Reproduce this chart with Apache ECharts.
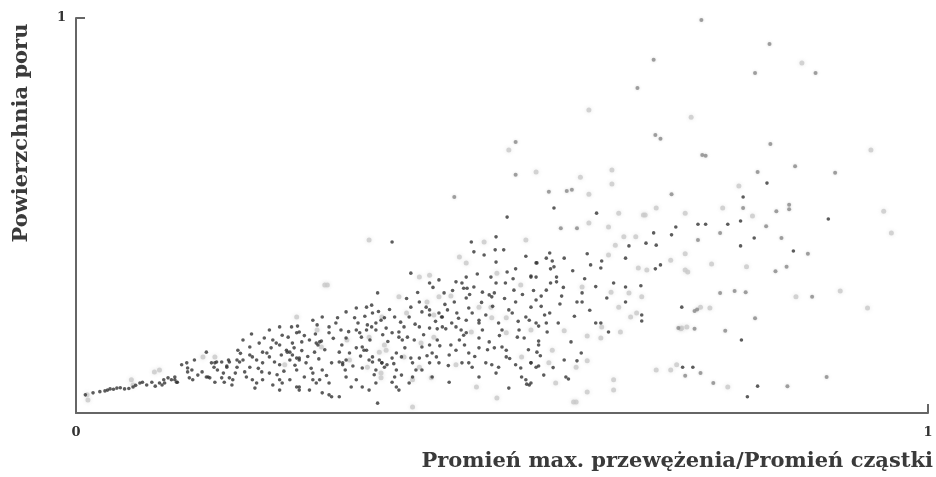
<!DOCTYPE html>
<html>
<head>
<meta charset="utf-8">
<script src="https://cdn.jsdelivr.net/npm/echarts@6/dist/echarts.min.js"></script>
<style>
  html, body { margin: 0; padding: 0; background: #fff; }
  #chart { width: 936px; height: 477px; }
</style>
</head>
<body>
<div id="chart"></div>
<script>
// Axis tick labels and titles
const xTickLabels = ['0', '1'];
const yTickLabels = ['1'];
const xTitle = 'Promień max. przewężenia/Promień cząstki';
const yTitle = 'Powierzchnia poru';

// Measurements, dark (sharp) points: [radius ratio, pore area]
const darkPoints = [
  [0.011,0.046],[0.020,0.051],[0.028,0.054],[0.034,0.056],[0.037,0.058],[0.040,0.061],[0.044,0.060],[0.048,0.063],
  [0.052,0.064],[0.057,0.061],[0.062,0.062],[0.067,0.066],[0.070,0.070],[0.075,0.076],[0.078,0.078],[0.083,0.071],
  [0.089,0.078],[0.093,0.068],[0.098,0.076],[0.103,0.084],[0.108,0.089],[0.112,0.084],[0.116,0.091],[0.119,0.078],
  [0.124,0.122],[0.130,0.127],[0.131,0.114],[0.133,0.089],[0.137,0.084],[0.139,0.134],[0.143,0.096],[0.148,0.104],
  [0.153,0.154],[0.155,0.091],[0.159,0.127],[0.162,0.116],[0.163,0.078],[0.166,0.109],[0.171,0.129],[0.173,0.101],
  [0.177,0.119],[0.179,0.134],[0.180,0.089],[0.183,0.071],
  [0.153,0.091],[0.157,0.089],[0.131,0.104],[0.136,0.109],[0.116,0.084],[0.118,0.078],[0.171,0.089],[0.174,0.078],
  [0.177,0.116],[0.180,0.129],[0.163,0.127],[0.165,0.129],[0.101,0.071],[0.104,0.076],
  [0.206,0.200],[0.196,0.185],[0.190,0.159],[0.204,0.167],[0.215,0.177],[0.227,0.210],[0.231,0.185],[0.239,0.218],
  [0.242,0.197],[0.253,0.218],[0.260,0.220],[0.254,0.177],[0.265,0.180],[0.274,0.185],[0.278,0.235],[0.283,0.223],
  [0.286,0.180],[0.280,0.154],[0.297,0.203],[0.307,0.241],[0.311,0.210],[0.317,0.256],[0.327,0.241],[0.329,0.266],
  [0.341,0.268],[0.347,0.273],[0.348,0.253],[0.354,0.304],[0.352,0.228],[0.358,0.235],[0.341,0.210],[0.335,0.192],
  [0.317,0.190],[0.309,0.154],[0.321,0.152],[0.329,0.165],[0.341,0.159],[0.348,0.142],[0.356,0.134],[0.362,0.116],
  [0.352,0.109],[0.336,0.114],[0.329,0.084],[0.317,0.091],[0.313,0.122],[0.300,0.127],[0.289,0.109],[0.278,0.101],
  [0.270,0.127],[0.262,0.139],[0.251,0.134],[0.241,0.147],[0.239,0.122],[0.227,0.142],[0.219,0.127],[0.212,0.134],
  [0.204,0.116],[0.196,0.134],[0.189,0.116],[0.184,0.084],[0.200,0.091],[0.210,0.063],[0.219,0.084],[0.231,0.071],
  [0.239,0.058],[0.251,0.084],[0.262,0.066],[0.274,0.058],[0.286,0.084],[0.297,0.076],[0.300,0.041],[0.309,0.041],
  [0.289,0.051],[0.323,0.066],[0.352,0.076],[0.354,0.025],[0.259,0.109],[0.268,0.091],[0.248,0.154],[0.256,0.165],
  [0.227,0.101],[0.218,0.104],
  [0.247,0.159],[0.251,0.154],[0.254,0.147],[0.259,0.139],[0.262,0.134],[0.282,0.177],[0.284,0.172],[0.288,0.182],
  [0.309,0.129],[0.313,0.127],[0.317,0.134],[0.344,0.134],[0.348,0.129],[0.359,0.127],[0.342,0.223],[0.347,0.218],
  [0.352,0.210],[0.219,0.154],[0.224,0.152],[0.204,0.147],[0.207,0.142],[0.189,0.134],[0.192,0.129],[0.235,0.177],
  [0.239,0.172],[0.259,0.203],[0.262,0.205],[0.289,0.243],[0.297,0.218],[0.329,0.210],[0.333,0.203],[0.336,0.167],
  [0.338,0.159],[0.278,0.084],[0.282,0.076],[0.239,0.084],[0.242,0.076],[0.207,0.084],[0.212,0.076],[0.259,0.066],
  [0.262,0.058],[0.297,0.046],[0.336,0.066],[0.344,0.058],
  [0.187,0.101],[0.193,0.151],[0.198,0.104],[0.214,0.113],[0.221,0.190],[0.229,0.165],[0.233,0.129],[0.236,0.097],
  [0.244,0.106],[0.249,0.192],[0.257,0.121],[0.265,0.158],[0.268,0.196],[0.272,0.143],[0.276,0.113],[0.281,0.200],
  [0.285,0.137],[0.292,0.160],[0.294,0.095],[0.302,0.189],[0.305,0.228],[0.312,0.172],[0.316,0.109],[0.320,0.206],
  [0.325,0.119],[0.331,0.228],[0.334,0.144],[0.339,0.245],[0.345,0.185],[0.350,0.097],[0.355,0.257],[0.360,0.198],
  [0.366,0.181],[0.368,0.262],[0.373,0.125],[0.381,0.230],[0.386,0.165],[0.388,0.290],[0.398,0.225],[0.401,0.305],
  [0.408,0.198],[0.412,0.145],[0.419,0.318],[0.422,0.232],[0.427,0.170],[0.433,0.275],[0.437,0.120],[0.442,0.310],
  [0.449,0.240],[0.456,0.172],[0.462,0.300],[0.468,0.143],[0.471,0.352],[0.476,0.280],[0.483,0.160],[0.489,0.270],
  [0.497,0.196],[0.503,0.290],[0.509,0.138],[0.513,0.340],[0.519,0.232],[0.524,0.300],[0.531,0.160],[0.537,0.310],
  [0.546,0.270],
  [0.371,0.433],[0.464,0.433],[0.493,0.446],[0.467,0.408],[0.479,0.400],[0.492,0.413],[0.502,0.413],[0.493,0.382],
  [0.528,0.397],[0.540,0.380],[0.393,0.354],[0.426,0.337],[0.415,0.329],[0.446,0.332],[0.458,0.344],[0.487,0.344],
  [0.506,0.357],[0.516,0.365],[0.534,0.347],[0.493,0.329],[0.504,0.329],[0.514,0.311],[0.467,0.319],[0.432,0.304],
  [0.455,0.316],[0.477,0.306],[0.491,0.304],[0.458,0.291],[0.444,0.281],[0.516,0.281],[0.403,0.281],[0.393,0.268],
  [0.406,0.256],[0.391,0.243],[0.415,0.248],[0.436,0.261],[0.447,0.253],[0.461,0.266],[0.465,0.253],[0.473,0.235],
  [0.481,0.248],[0.458,0.235],[0.430,0.243],[0.430,0.218],[0.434,0.213],[0.424,0.213],[0.415,0.215],[0.403,0.218],
  [0.362,0.241],[0.374,0.243],[0.385,0.218],[0.364,0.215],[0.371,0.203],[0.379,0.205],[0.389,0.192],[0.397,0.185],
  [0.415,0.172],[0.406,0.167],[0.424,0.185],[0.440,0.172],[0.450,0.185],[0.446,0.159],[0.458,0.203],[0.473,0.190],
  [0.485,0.180],[0.491,0.165],[0.473,0.165],[0.461,0.152],[0.453,0.127],[0.438,0.147],[0.426,0.127],[0.415,0.127],
  [0.403,0.139],[0.393,0.139],[0.382,0.142],[0.376,0.152],[0.371,0.139],[0.359,0.127],[0.365,0.122],[0.376,0.109],
  [0.382,0.096],[0.374,0.091],[0.371,0.078],[0.376,0.066],[0.481,0.127],[0.488,0.122],[0.496,0.116],[0.516,0.122],
  [0.505,0.142],[0.518,0.192],[0.526,0.190],[0.520,0.210],[0.534,0.127],[0.540,0.116],[0.522,0.114],[0.438,0.078],
  [0.508,0.063],[0.529,0.073],[0.395,0.091],[0.406,0.109],
  [0.453,0.329],[0.459,0.316],[0.485,0.299],[0.488,0.294],[0.411,0.268],[0.415,0.261],[0.426,0.253],[0.429,0.243],
  [0.441,0.228],[0.446,0.218],[0.473,0.228],[0.477,0.210],[0.496,0.228],[0.500,0.210],[0.508,0.261],[0.512,0.253],
  [0.528,0.243],[0.532,0.235],[0.461,0.127],[0.465,0.116],[0.418,0.152],[0.423,0.142],[0.395,0.127],[0.399,0.109],
  [0.379,0.192],[0.383,0.185],[0.452,0.210],[0.455,0.197],[0.500,0.167],[0.505,0.159],[0.523,0.091],[0.528,0.084],
  [0.473,0.091],[0.493,0.101],[0.418,0.091],[0.391,0.076],[0.379,0.058],
  [0.561,0.519],[0.611,0.506],[0.678,0.456],[0.704,0.471],[0.699,0.451],[0.669,0.430],[0.649,0.423],[0.681,0.425],
  [0.600,0.403],[0.645,0.392],[0.617,0.385],[0.604,0.375],[0.616,0.367],[0.686,0.375],[0.680,0.365],[0.552,0.392],
  [0.541,0.380],[0.559,0.385],[0.561,0.370],[0.557,0.365],[0.534,0.344],[0.540,0.344],[0.564,0.344],[0.564,0.332],
  [0.557,0.329],[0.631,0.329],[0.645,0.319],[0.663,0.322],[0.645,0.281],[0.623,0.291],[0.594,0.304],[0.588,0.281],
  [0.594,0.281],[0.570,0.296],[0.546,0.296],[0.540,0.286],[0.552,0.311],[0.534,0.268],[0.568,0.276],[0.556,0.253],
  [0.550,0.248],[0.540,0.228],[0.543,0.220],[0.552,0.228],[0.610,0.228],[0.616,0.228],[0.625,0.205],[0.664,0.248],
  [0.664,0.233],[0.711,0.268],[0.581,0.180],[0.543,0.182],[0.543,0.172],[0.541,0.154],[0.593,0.152],[0.573,0.134],
  [0.588,0.132],[0.534,0.127],[0.543,0.119],[0.549,0.096],[0.575,0.091],[0.578,0.086],[0.712,0.116],[0.534,0.076],
  [0.556,0.405],[0.573,0.392],[0.583,0.360],[0.572,0.318],[0.597,0.340],[0.610,0.320],[0.553,0.205],[0.566,0.228],
  [0.585,0.245],[0.603,0.260],[0.560,0.115],[0.545,0.145],
  [0.811,0.582],[0.783,0.547],[0.730,0.478],[0.739,0.478],[0.765,0.478],[0.780,0.486],[0.796,0.443],[0.780,0.423],
  [0.842,0.410],[0.883,0.491],[0.781,0.185],[0.724,0.116],[0.800,0.068],[0.788,0.041],[0.506,0.496],[0.532,0.071]
];

// Measurements, medium grey points
const midPoints = [
  [0.734,0.995],[0.814,0.934],[0.797,0.861],[0.868,0.861],[0.678,0.894],[0.659,0.823],[0.680,0.704],[0.686,0.694],
  [0.516,0.686],[0.516,0.603],[0.815,0.681],[0.735,0.653],[0.739,0.651],[0.844,0.625],[0.800,0.610],[0.891,0.608],
  [0.555,0.560],[0.582,0.565],[0.576,0.562],[0.699,0.554],[0.444,0.547],[0.569,0.468],[0.588,0.468],[0.783,0.519],
  [0.828,0.443],[0.821,0.359],[0.797,0.240],[0.837,0.527],[0.837,0.516],[0.822,0.511],[0.810,0.473],[0.859,0.403],
  [0.834,0.370],[0.864,0.294],[0.773,0.309],[0.786,0.306],[0.756,0.304],[0.756,0.456],[0.730,0.438],[0.726,0.258],
  [0.726,0.213],[0.762,0.208],[0.733,0.101],[0.715,0.094],[0.748,0.076],[0.835,0.068],[0.881,0.091],[0.729,0.262],
  [0.707,0.215]
];

// Measurements, faint grey points
const lightPoints = [
  [0.852,0.886],[0.602,0.767],[0.722,0.749],[0.508,0.666],[0.540,0.610],[0.933,0.666],[0.592,0.597],[0.629,0.615],
  [0.629,0.580],[0.778,0.575],[0.948,0.511],[0.957,0.456],[0.715,0.506],[0.715,0.403],[0.718,0.357],[0.746,0.377],
  [0.787,0.370],[0.845,0.294],[0.897,0.309],[0.929,0.266],[0.744,0.266],[0.733,0.268],[0.717,0.218],[0.710,0.213],
  [0.759,0.519],[0.794,0.499],[0.765,0.066],[0.602,0.554],[0.602,0.481],[0.625,0.471],[0.637,0.506],[0.666,0.501],
  [0.657,0.446],[0.625,0.400],[0.633,0.425],[0.660,0.367],[0.670,0.362],[0.698,0.387],[0.715,0.362],[0.594,0.319],
  [0.628,0.306],[0.649,0.304],[0.664,0.294],[0.651,0.243],[0.658,0.253],[0.637,0.268],[0.617,0.218],[0.639,0.205],
  [0.600,0.195],[0.616,0.190],[0.573,0.208],[0.559,0.159],[0.555,0.127],[0.600,0.132],[0.587,0.116],[0.631,0.084],
  [0.631,0.058],[0.600,0.053],[0.584,0.028],[0.563,0.076],[0.681,0.109],[0.698,0.109],[0.705,0.122],[0.711,0.215],
  [0.403,0.344],[0.415,0.349],[0.450,0.395],[0.458,0.380],[0.479,0.433],[0.528,0.438],[0.494,0.354],[0.522,0.324],
  [0.426,0.294],[0.440,0.296],[0.412,0.281],[0.388,0.253],[0.379,0.294],[0.420,0.248],[0.488,0.241],[0.505,0.203],
  [0.464,0.205],[0.420,0.192],[0.405,0.177],[0.446,0.122],[0.470,0.066],[0.403,0.116],[0.385,0.142],[0.364,0.159],
  [0.358,0.101],[0.395,0.084],[0.417,0.089],[0.494,0.038],[0.523,0.142],[0.534,0.210],[0.473,0.268],[0.487,0.268],
  [0.505,0.241],[0.295,0.324],[0.259,0.243],[0.283,0.210],[0.318,0.185],[0.344,0.192],[0.359,0.243],[0.356,0.154],
  [0.362,0.172],[0.342,0.116],[0.358,0.089],[0.321,0.134],[0.288,0.167],[0.245,0.122],[0.098,0.109],[0.092,0.104],
  [0.065,0.084],[0.067,0.071],[0.149,0.142],[0.163,0.142],[0.013,0.046],[0.014,0.033],[0.587,0.028],[0.395,0.015],
  [0.643,0.446],[0.668,0.501],[0.681,0.519],[0.344,0.438],[0.292,0.324]
];

const serifBold = { fontFamily: 'DejaVu Serif', fontWeight: 'bold', color: '#333' };

const chart = echarts.init(document.getElementById('chart'), null, { renderer: 'canvas' });

chart.setOption({
  animation: false,
  backgroundColor: '#fff',
  grid: { left: 76, right: 3, top: 18, bottom: 64, containLabel: false },
  xAxis: {
    type: 'value', min: 0, max: 1, interval: 1,
    splitLine: { show: false },
    axisLine: { show: true, lineStyle: { color: '#666', width: 2 } },
    axisTick: { show: true, inside: true, length: 9, lineStyle: { color: '#666', width: 2 } },
    axisLabel: {
      margin: 13, fontSize: 13, ...serifBold,
      formatter: (v) => xTickLabels[Math.round(v)]
    },
    name: xTitle,
    nameLocation: 'end',
    nameGap: 5,
    nameTextStyle: {
      ...serifBold, fontSize: 21, color: '#3a3a3a',
      align: 'right', verticalAlign: 'top', padding: [38, 0, 0, 0]
    }
  },
  yAxis: {
    type: 'value', min: 0, max: 1, interval: 1,
    splitLine: { show: false },
    axisLine: { show: true, lineStyle: { color: '#666', width: 2 } },
    axisTick: { show: true, inside: true, length: 9, lineStyle: { color: '#666', width: 2 } },
    axisLabel: {
      margin: 10, fontSize: 13, ...serifBold,
      formatter: (v) => (v === 1 ? yTickLabels[0] : '')
    }
  },
  graphic: [{
    type: 'text',
    x: 22, y: 133,
    rotation: Math.PI / 2,
    style: {
      text: yTitle,
      font: 'bold 21px "DejaVu Serif"',
      fill: '#3a3a3a',
      align: 'center',
      verticalAlign: 'middle'
    }
  }],
  series: [
    {
      type: 'scatter', data: lightPoints, symbol: 'circle', symbolSize: 5,
      itemStyle: { color: '#c9c9c9', shadowBlur: 4, shadowColor: 'rgba(200,200,200,0.6)' },
      z: 1
    },
    {
      type: 'scatter', data: midPoints, symbol: 'circle', symbolSize: 4,
      itemStyle: { color: '#8a8a8a', shadowBlur: 3, shadowColor: 'rgba(160,160,160,0.5)' },
      z: 2
    },
    {
      type: 'scatter', data: darkPoints, symbol: 'circle', symbolSize: 3.6,
      itemStyle: { color: '#333' },
      z: 3
    }
  ]
});
</script>
</body>
</html>
